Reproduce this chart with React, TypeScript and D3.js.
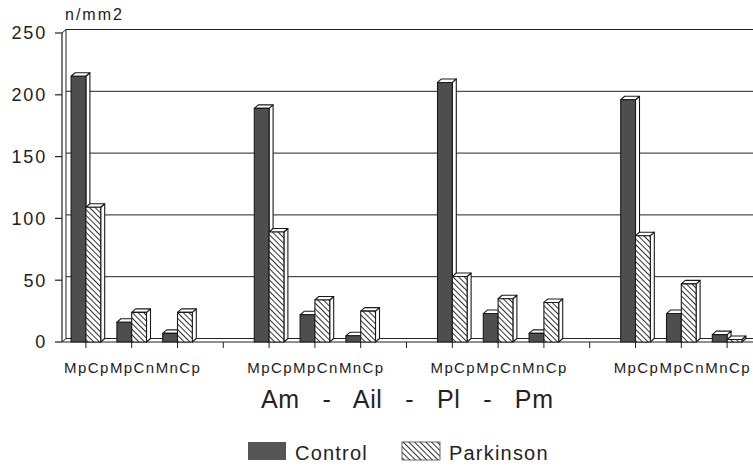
import React from "react";
import * as d3 from "d3";

const regions = ["Am", "Ail", "Pl", "Pm"];
const cells = ["MpCp", "MpCn", "MnCp"];
// values per region, in cells order
const control = [215, 16, 7, 189, 22, 5, 210, 23, 7, 196, 23, 6];
const parkinson = [109, 24, 24, 89, 34, 25, 53, 35, 32, 86, 47, 2];
const yTicks = [0, 50, 100, 150, 200, 250];

const W = 753;
const H = 466;
const DX = 4;
const DY = 3.5;
const FONT = "'Liberation Sans', Arial, Helvetica, sans-serif";

// 4 slots per region: 3 cell types + an empty gap
const slots = regions.flatMap((r) => [...cells.map((c) => `${r}-${c}`), `${r}-gap`]);

const x = d3.scaleBand<string>().domain(slots).range([63, 63 + 16 * 45.8]);
const y = d3.scaleLinear().domain([0, 250]).range([342, 33]);

const bars = regions.flatMap((r, ri) =>
  cells.map((c, ci) => ({
    slot: `${r}-${c}`,
    label: c,
    control: control[ri * 3 + ci],
    parkinson: parkinson[ri * 3 + ci],
  }))
);

const bw = 14.8;
const y0 = y(0);

function Bar3D({ x0, v, fill }: { x0: number; v: number; fill: string }) {
  const top = y(v);
  const side = `${x0 + bw},${top} ${x0 + bw + DX},${top - DY} ${x0 + bw + DX},${y0 - DY} ${x0 + bw},${y0}`;
  const lid = `${x0},${top} ${x0 + DX},${top - DY} ${x0 + bw + DX},${top - DY} ${x0 + bw},${top}`;
  return (
    <g stroke="#1a1a1a" strokeWidth={1.1} strokeLinejoin="round">
      <polygon points={side} fill="#fff" />
      <polygon points={lid} fill="#fff" />
      <rect x={x0} y={top} width={bw} height={y0 - top} fill={fill} />
    </g>
  );
}

export default function App() {
  const cx = (s: string) => (x(s) as number) + x.bandwidth() / 2;
  return (
    <svg
      width={W}
      height={H}
      style={{ position: "absolute", left: 0, top: 0, background: "#fff" }}
      fontFamily={FONT}
    >
      <defs>
        <pattern id="hatch" patternUnits="userSpaceOnUse" width={4} height={4} patternTransform="rotate(-45)">
          <rect width={4} height={4} fill="#fff" />
          <line x1={0} y1={0} x2={0} y2={4} stroke="#1a1a1a" strokeWidth={1.8} />
        </pattern>
      </defs>

      {/* back grid lines */}
      {yTicks.slice(1).map((t) => (
        <line key={t} x1={62 + DX} x2={W} y1={y(t) - DY} y2={y(t) - DY} stroke="#222" strokeWidth={1} />
      ))}

      {/* left walls */}
      <line x1={62} x2={62} y1={y(250)} y2={y0} stroke="#222" strokeWidth={1.2} />
      <line x1={62 + DX} x2={62 + DX} y1={y(250) - DY} y2={y0 - DY} stroke="#222" strokeWidth={1} />
      <line x1={62} x2={62 + DX} y1={y(250)} y2={y(250) - DY} stroke="#222" strokeWidth={1} />

      {/* floor */}
      <polygon
        points={`62,${y0} ${W + 5},${y0} ${W + 5},${y0 - DY} ${62 + DX},${y0 - DY}`}
        fill="#fff"
        stroke="#222"
        strokeWidth={1}
      />

      {bars.map((b) => {
        const c = cx(b.slot);
        return (
          <g key={b.slot}>
            <Bar3D x0={c - bw} v={b.control} fill="#4e4e4e" />
            <Bar3D x0={c} v={b.parkinson} fill="url(#hatch)" />
          </g>
        );
      })}

      {/* y axis */}
      {yTicks.map((t) => (
        <g key={t}>
          <line x1={55} x2={62} y1={y(t)} y2={y(t)} stroke="#222" strokeWidth={1.2} />
          <text x={47} y={y(t)} dy="0.36em" textAnchor="end" fontSize={18} letterSpacing={1.8} fill="#222">
            {t}
          </text>
        </g>
      ))}
      <text x={65} y={19.5} fontSize={16} letterSpacing={2} fill="#222">
        n/mm2
      </text>

      {/* x axis ticks and labels */}
      {slots.map((s) => (
        <line key={s} x1={cx(s)} x2={cx(s)} y1={y0} y2={y0 + 6} stroke="#222" strokeWidth={1} />
      ))}
      {bars.map((b) => (
        <text key={b.slot} x={cx(b.slot) + 1} y={373} textAnchor="middle" fontSize={15} letterSpacing={1.4} fill="#222">
          {b.label}
        </text>
      ))}

      <text x={261} y={408} fontSize={25} textLength={292} lengthAdjust="spacing" xmlSpace="preserve" fill="#222">
        {regions.join("   -   ")}
      </text>

      {/* legend */}
      <rect x={248} y={442} width={38} height={18} fill="#555" />
      <text x={295} y={460} fontSize={20} letterSpacing={1.2} fill="#222">
        Control
      </text>
      <rect x={402} y={442} width={38} height={18} fill="url(#hatch)" stroke="#444" strokeWidth={0.8} />
      <text x={449} y={460} fontSize={20} letterSpacing={1.2} fill="#222">
        Parkinson
      </text>
    </svg>
  );
}
